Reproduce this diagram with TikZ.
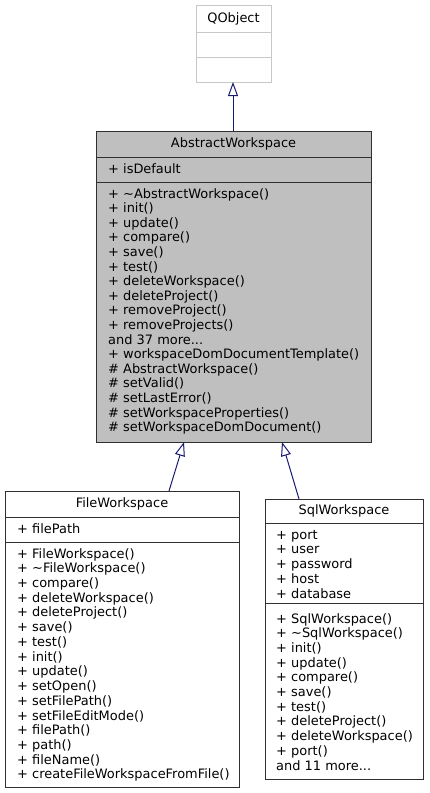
\documentclass[tikz,border=0pt]{standalone}
\usepackage{fontspec}
\setmainfont{DejaVu Sans}
\usetikzlibrary{arrows.meta}
\definecolor{edgeblue}{HTML}{191970}
\definecolor{boxgray}{HTML}{BFBFBF}
\definecolor{lightborder}{HTML}{C8C8C8}
\definecolor{darkborder}{HTML}{303030}
\newcommand\mydots{...}
\tikzset{
  umlbox/.style={draw=darkborder, line width=1pt, fill=white, anchor=north west, inner sep=0pt, outer sep=0pt},
  txt/.style={anchor=base west, inner sep=0pt, font=\fontsize{12.95}{14.6}\selectfont},
  ttl/.style={anchor=base, inner sep=0pt, font=\fontsize{12.95}{14.6}\selectfont},
  inherit/.style={draw=edgeblue, line width=1pt, -{Triangle[open, length=14pt, width=10pt]}},
  divline/.style={draw=darkborder, line width=1pt}
}
\begin{document}
\begin{tikzpicture}[x=1pt, y=-1pt]
\useasboundingbox (0,0) rectangle (429,793);
% QObject
\node[umlbox, draw=lightborder, minimum width=75pt, minimum height=77pt] (qo) at (196,5) {};
\draw[draw=lightborder, line width=1pt] (196,32) -- (271,32) (196,57) -- (271,57);
\node[ttl] (qot) at (233.5,22) {QObject};
% AbstractWorkspace
\node[umlbox, fill=boxgray, minimum width=275pt, minimum height=311pt] (aw) at (96,131) {};
\draw[divline] (96,157) -- (371,157) (96,182) -- (371,182);
\node[ttl] (awt) at (233.5,147) {AbstractWorkspace};
\node[txt] (awa) at (108,173) {+ isDefault};
\foreach [count=\i from 0] \t in {+ \textasciitilde AbstractWorkspace(), + init(), + update(), + compare(), + save(), + test(), + deleteWorkspace(), + deleteProject(), + removeProject(), + removeProjects(), and 37 more\mydots, + workspaceDomDocumentTemplate(), \# AbstractWorkspace(), \# setValid(), \# setLastError(), \# setWorkspaceProperties(), \# setWorkspaceDomDocument()}
  \node[txt] (awm\i) at (108,198+\i*14.6) {\t};
% FileWorkspace
\node[umlbox, minimum width=234pt, minimum height=296pt] (fw) at (5,491) {};
\draw[divline] (5,517) -- (239,517) (5,542) -- (239,542);
\node[ttl] (fwt) at (122,507) {FileWorkspace};
\node[txt] (fwa) at (17,533) {+ filePath};
\foreach [count=\i from 0] \t in {+ FileWorkspace(), + \textasciitilde FileWorkspace(), + compare(), + deleteWorkspace(), + deleteProject(), + save(), + test(), + init(), + update(), + setOpen(), + setFilePath(), + setFileEditMode(), + filePath(), + path(), + fileName(), + createFileWorkspaceFromFile()}
  \node[txt] (fwm\i) at (17,558+\i*14.73) {\t};
% SqlWorkspace
\node[umlbox, minimum width=158pt, minimum height=280pt] (sw) at (265,499) {};
\draw[divline] (265,523) -- (423,523) (265,603) -- (423,603);
\node[ttl] (swt) at (344,514) {SqlWorkspace};
\foreach [count=\i from 0] \t in {+ port, + user, + password, + host, + database}
  \node[txt] (swa\i) at (276,539+\i*14.75) {\t};
\foreach [count=\i from 0] \t in {+ SqlWorkspace(), + \textasciitilde SqlWorkspace(), + init(), + update(), + compare(), + save(), + test(), + deleteProject(), + deleteWorkspace(), + port(), and 11 more\mydots}
  \node[txt] (swm\i) at (276,623+\i*14.7) {\t};
% connectors
\coordinate (awtop) at (233,131);
\coordinate (qobot) at (233,82);
\coordinate (awbotl) at (184,442);
\coordinate (awbotr) at (282,442);
\coordinate (fwtop) at (169,491);
\coordinate (swtop) at (299,499);
\draw[inherit] (awtop) -- (qobot);
\draw[inherit] (fwtop) -- (awbotl);
\draw[inherit] (swtop) -- (awbotr);
\end{tikzpicture}
\end{document}
